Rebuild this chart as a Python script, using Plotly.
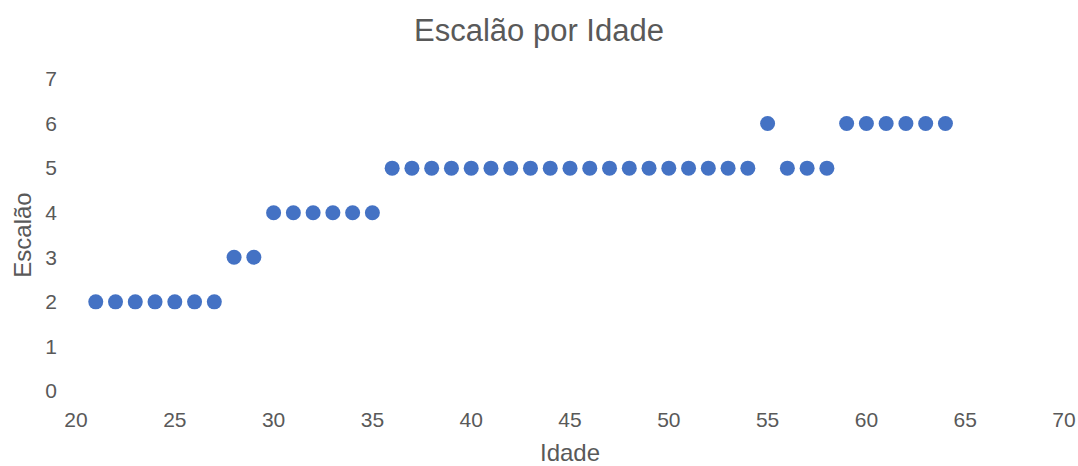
import plotly.graph_objects as go

idade = list(range(21, 65))
escalao = [2]*7 + [3]*2 + [4]*6 + [5]*19 + [6] + [5]*3 + [6]*6

x_ticks = [20, 25, 30, 35, 40, 45, 50, 55, 60, 65, 70]
y_ticks = [0, 1, 2, 3, 4, 5, 6, 7]

FONT = "Liberation Sans, Arial, sans-serif"
GRAY = "#595959"

fig = go.Figure(go.Scatter(
    x=idade, y=escalao, mode="markers",
    marker=dict(color="#4472C4", size=15, line=dict(width=0)),
    cliponaxis=False,
))

fig.update_layout(
    width=1078, height=466,
    margin=dict(l=76, r=14, t=79, b=75),
    paper_bgcolor="white", plot_bgcolor="white",
    font=dict(family=FONT, color=GRAY, size=21),
    title=dict(text="Escalão por Idade", x=0.5, xanchor="center",
               y=1 - 30/466, yanchor="middle", yref="container",
               font=dict(size=31, color=GRAY, family=FONT)),
    showlegend=False,
    xaxis=dict(range=[20, 70], tickvals=x_ticks, showgrid=False, zeroline=False,
               showline=False, ticks="", ticklabelstandoff=14, automargin=False,
               tickfont=dict(size=21, color=GRAY),
               title=dict(text="Idade", font=dict(size=24, color=GRAY), standoff=21)),
    yaxis=dict(range=[0, 7], tickvals=y_ticks, showgrid=False, zeroline=False,
               showline=False, ticks="", ticklabelstandoff=18, automargin=False,
               tickfont=dict(size=21, color=GRAY),
               title=dict(text="Escalão", font=dict(size=24, color=GRAY), standoff=6)),
)

fig.write_html("out.html", config={"displayModeBar": False},
               post_script="document.body.style.margin='0';document.body.style.overflow='hidden';")
